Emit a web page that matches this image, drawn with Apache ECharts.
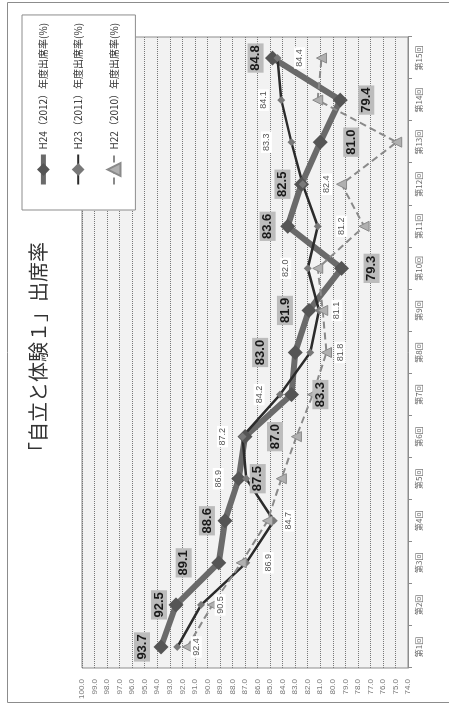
<!DOCTYPE html>
<html>
<head>
<meta charset="utf-8">
<script src="https://cdn.jsdelivr.net/npm/echarts@6/dist/echarts.min.js"></script>
<style>
  html, body { margin: 0; padding: 0; background: #fff; overflow: hidden; }
  #page { width: 449px; height: 704px; position: relative; overflow: hidden; }
  /* the chart is laid out landscape and turned a quarter turn counter-clockwise */
  #chart {
    width: 704px; height: 449px; position: absolute; left: 0; top: 0;
    transform-origin: 0 0; transform: translate(0, 704px) rotate(-90deg);
  }
</style>
</head>
<body>
<div id="page"><div id="chart"></div></div>
<script>
const titleText = '「自立と体験１」出席率';
const sessions = ['第1回','第2回','第3回','第4回','第5回','第6回','第7回','第8回','第9回','第10回','第11回','第12回','第13回','第14回','第15回'];
const seriesNames = ['H24（2012）年度出席率(%)', 'H23（2011）年度出席率(%)', 'H22（2010）年度出席率(%)'];
const rateH24 = [93.7, 92.5, 89.1, 88.6, 87.5, 87.0, 83.3, 83.0, 81.9, 79.3, 83.6, 82.5, 81.0, 79.4, 84.8];
const rateH23 = [92.4, 90.5, 86.9, 84.7, 86.9, 87.2, 84.2, 81.8, 81.1, 82.0, 81.2, 82.4, 83.3, 84.1, 84.4];
const rateH22 = [91.6, 89.6, 87.3, 85.2, 84.1, 82.9, 81.6, 80.5, 80.8, 81.2, 77.5, 79.3, 74.9, 81.2, 80.9];

// vertical shift of each value label from its point (negative = above)
const shiftH24 = [-19, -17, -35, -18, 19, 30, 29, -35, -24, 30, -20, -19, 31, 26, -17];
const shiftH23 = [19, 19, 22, 15, -28, -20, -21, 30, 18, -22, 24, 24, -25, -18, 22];

const fmt = p => Number(p.value).toFixed(1);

const h24Label = {
  show: true, position: 'inside', formatter: fmt,
  fontSize: 13, fontWeight: 'bold', color: '#1a1a1a', fontFamily: 'Liberation Sans',
  backgroundColor: '#bcbcbc', padding: [2, 2, 1, 2]
};
const h23Label = {
  show: true, position: 'inside', formatter: fmt,
  fontSize: 9, color: '#555', fontFamily: 'Liberation Sans',
  backgroundColor: '#ffffff', padding: [1, 2, 1, 2]
};

const chart = echarts.init(document.getElementById('chart'), null, { renderer: 'canvas' });
chart.setOption({
  animation: false,
  backgroundColor: '#ffffff',
  title: {
    text: titleText, left: 'center', top: 23,
    textStyle: { fontSize: 20, fontWeight: 'normal', color: '#333', fontFamily: 'Noto Sans CJK JP' }
  },
  graphic: [{
    type: 'rect', silent: true, z: -1,
    shape: { x: 1.5, y: 7.5, width: 700, height: 470 },
    style: { fill: 'none', stroke: '#8c8c8c', lineWidth: 1 }
  }],
  legend: {
    orient: 'vertical', left: 494, top: 22,
    data: [
      { name: seriesNames[0], itemStyle: { color: '#555' }, lineStyle: { width: 5, color: '#6a6a6a' } },
      { name: seriesNames[1] },
      { name: seriesNames[2] }
    ],
    backgroundColor: '#ffffff', borderColor: '#8c8c8c', borderWidth: 1,
    padding: [15, 8, 14, 23], itemGap: 22, itemWidth: 30, itemHeight: 16, itemTextGap: 3,
    textStyle: { fontSize: 10, color: '#333', fontFamily: 'Noto Sans CJK JP' }
  },
  grid: {
    left: 36, right: 37, top: 82, bottom: 41, show: true,
    backgroundColor: '#f2f2f2', borderColor: '#8c8c8c', borderWidth: 1
  },
  xAxis: {
    type: 'category', data: sessions, boundaryGap: true,
    axisLine: { show: true, lineStyle: { color: '#8c8c8c' } },
    axisTick: { show: true, length: 4, lineStyle: { color: '#8c8c8c' } },
    axisLabel: { fontSize: 8, color: '#666', margin: 7, fontFamily: 'Noto Sans CJK JP' }
  },
  yAxis: {
    type: 'value', min: 74, max: 100, interval: 1,
    axisLine: { show: false }, axisTick: { show: false },
    axisLabel: { fontSize: 8, color: '#777', margin: 11, fontFamily: 'Liberation Sans', formatter: v => v.toFixed(1) },
    splitLine: { show: true, lineStyle: { color: '#777', type: 'dotted', width: 1 } }
  },
  series: [
    {
      name: seriesNames[0], type: 'line', z: 2,
      data: rateH24,
      symbol: 'diamond', symbolSize: 15,
      lineStyle: { color: '#6a6a6a', width: 6 },
      itemStyle: { color: '#555555' },
      label: h24Label,
      labelLayout: p => ({ dy: shiftH24[p.dataIndex], hideOverlap: false })
    },
    {
      name: seriesNames[1], type: 'line', z: 2,
      data: rateH23,
      symbol: 'diamond', symbolSize: 8,
      lineStyle: { color: '#2b2b2b', width: 2.5 },
      itemStyle: { color: '#787878' },
      label: h23Label,
      labelLayout: p => ({ dy: shiftH23[p.dataIndex], hideOverlap: false })
    },
    {
      name: seriesNames[2], type: 'line', z: 2,
      data: rateH22,
      symbol: 'triangle', symbolSize: 10,
      lineStyle: { color: '#8a8a8a', width: 2, type: [7, 4] },
      itemStyle: { color: '#b0b0b0', borderColor: '#8a8a8a', borderWidth: 1 }
    }
  ]
});
</script>
</body>
</html>
